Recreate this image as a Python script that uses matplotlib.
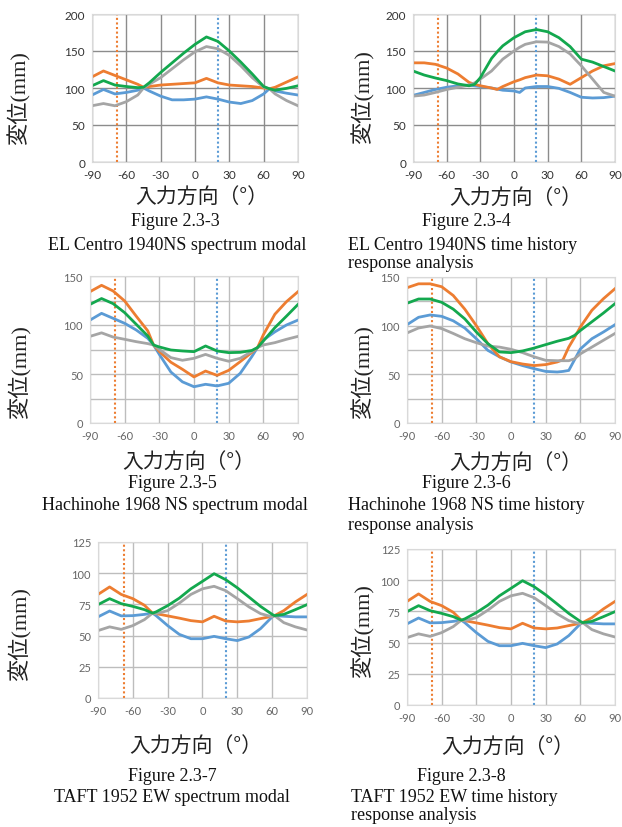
import matplotlib

matplotlib.use("Agg")
import matplotlib.pyplot as plt

W, H = 622, 828

BLUE = "#5B9BD5"
ORANGE = "#ED7D31"
GRAY = "#A5A5A5"
GREEN = "#13A84E"

ORANGE_LINE = -68
BLUE_LINE = 20

# Figure 2.3-3 EL Centro spectrum modal
p1_x = [-90, -80, -70, -60, -50, -45, -40, -30, -20, -10, 0, 10, 20, 30, 40, 50, 60, 65, 70, 80, 90]
p1_orange = [115, 123, 117, 111, 105, 101, 102, 104, 105, 106, 107, 113, 107, 104, 103, 102, 100, 99, 101, 108, 115]
p1_green = [103, 110, 104, 102, 100.5, 101, 107, 121, 134, 147, 159, 169, 163, 150, 135, 119, 102, 99, 97, 99.5, 103]
p1_gray = [76, 79, 76, 81.5, 90.5, 100, 105, 114, 126, 138, 149, 156, 153, 144, 130, 114, 101, 99, 92, 83, 76]
p1_blue = [90.5, 98, 92, 94, 97, 100, 96, 89, 84, 84, 85, 88, 85, 81, 79, 83, 92, 99, 96, 93, 90.5]

# Figure 2.3-4 EL Centro time history
p2_x = [-90, -80, -70, -60, -50, -40, -35, -30, -20, -15, -10, 0, 5, 10, 20, 30, 40, 50, 60, 70, 80, 90]
p2_orange = [134, 134, 132, 127, 119, 107.5, 105, 103, 100, 98, 102, 108.5, 111, 114, 117.5, 116.5, 112, 105, 114, 123, 130, 133]
p2_green = [123, 117.5, 113.5, 110, 105.5, 103, 105, 114, 140, 149, 157, 168, 172, 176, 179, 176, 168, 156, 139, 135, 129, 123]
p2_gray = [89, 90.5, 94, 98, 101, 104, 107, 112, 123, 131, 139, 150, 155, 159, 162.5, 162, 156, 146, 130, 112, 94, 89]
p2_blue = [90, 94, 98, 101, 103, 104, 103, 102, 100, 98.5, 97, 96, 94, 100, 102, 102, 99.5, 94, 87.5, 86.5, 87, 89]

# Figure 2.3-5 Hachinohe spectrum modal
p3_x = [-90, -80, -70, -60, -50, -40, -35, -30, -20, -10, 0, 10, 20, 30, 40, 50, 55, 60, 70, 80, 90]
p3_orange = [134, 140.5, 134.7, 124.5, 109, 94, 79.6, 73, 62, 54.8, 47, 53, 48.6, 53.7, 62.6, 72, 77, 90, 111, 123.8, 134]
p3_green = [121, 127, 121.8, 112.6, 100.7, 88.8, 79.6, 77.6, 74.5, 73.5, 72.8, 78.6, 73.5, 71.8, 72.1, 74, 77, 83.7, 97.3, 109, 121]
p3_blue = [105, 111.9, 106.8, 101.7, 94.9, 86.4, 79.6, 70, 52, 42, 37, 39.5, 37.8, 40.5, 50.7, 67.7, 77, 84.7, 93, 100, 105]
p3_gray = [88.4, 92, 87.7, 85.4, 83, 81, 79.6, 75, 66.7, 64, 66, 70, 66, 63, 66, 73, 77, 79.6, 82, 85.4, 88.4]

# Figure 2.3-6 Hachinohe time history
p4_x = [-90, -80, -70, -60, -50, -40, -30, -20, -10, 0, 10, 20, 30, 40, 45, 50, 55, 60, 70, 80, 90]
p4_orange = [139, 143, 143, 140, 131, 117, 100, 81.5, 68, 63, 60.6, 59, 60, 62.7, 65, 78, 88, 98.6, 115.8, 127.7, 138]
p4_green = [123, 127.4, 127.4, 124, 117, 107, 93.5, 81.5, 73, 72.3, 74, 77, 80.5, 84, 85.5, 87, 90, 95, 104, 113, 122.6]
p4_blue = [101, 108.6, 111, 109.6, 105, 97.6, 86.6, 74.6, 68, 62.7, 59, 55.8, 53, 52.4, 53, 54, 65, 76, 86.6, 93.5, 101]
p4_gray = [92.5, 97.6, 99.7, 97, 92, 86.6, 82.5, 79, 78, 75.7, 72.3, 68, 64.4, 64, 64, 64, 66, 71, 78, 85, 92]

# Figure 2.3-7 / 2.3-8 TAFT (both panels read the same)
p5_x = [-90, -80, -70, -60, -50, -43, -40, -30, -20, -10, 0, 10, 20, 30, 40, 50, 60, 62, 70, 80, 90]
p5_orange = [83, 89, 83, 79.6, 74.3, 68, 67.6, 65.8, 64, 62, 61, 65.5, 61.7, 61, 61.7, 63.6, 65.5, 66, 70, 77, 83]
p5_green = [74.8, 79.6, 75.6, 73.4, 70.8, 68, 69, 74, 80, 87.5, 93.5, 99.6, 94.8, 88.3, 80.9, 73.4, 67, 66, 67, 70.8, 74.8]
p5_gray = [54, 57, 55, 58, 62.8, 68, 67.6, 70, 76, 83, 87.5, 89.5, 86, 79.6, 73, 67.6, 65, 66, 60.4, 57, 54.5]
p5_blue = [65, 69.7, 65.8, 66, 67, 68, 66, 58, 51, 47.5, 47.5, 49.4, 47.5, 46, 48.9, 55.6, 65, 66, 65.5, 65, 65]

x_ticks = [-90, -60, -30, 0, 30, 60, 90]

panels = [
    # box in pixels (left, top, right, bottom)
    dict(box=(92, 15, 298, 163), x=p1_x, ys=(p1_blue, p1_orange, p1_gray, p1_green),
         ymax=200, grid=50, labels=[0, 50, 100, 150, 200], gc="#8C8C8C", tc="#333333", fs=8.5),
    dict(box=(413, 15, 615, 163), x=p2_x, ys=(p2_blue, p2_orange, p2_gray, p2_green),
         ymax=200, grid=50, labels=[0, 50, 100, 150, 200], gc="#8C8C8C", tc="#333333", fs=8.5),
    dict(box=(90, 277, 298, 424), x=p3_x, ys=(p3_blue, p3_orange, p3_gray, p3_green),
         ymax=150, grid=25, labels=[0, 50, 100, 150], gc="#BDBDBD", tc="#666666", fs=8),
    dict(box=(407, 278, 615, 424), x=p4_x, ys=(p4_blue, p4_orange, p4_gray, p4_green),
         ymax=150, grid=25, labels=[0, 50, 100, 150], gc="#BDBDBD", tc="#666666", fs=8),
    dict(box=(98, 543, 307, 699), x=p5_x, ys=(p5_blue, p5_orange, p5_gray, p5_green),
         ymax=125, grid=25, labels=[0, 25, 50, 75, 100, 125], gc="#BDBDBD", tc="#666666", fs=8),
    dict(box=(407, 550, 615, 706), x=p5_x, ys=(p5_blue, p5_orange, p5_gray, p5_green),
         ymax=125, grid=25, labels=[0, 25, 50, 75, 100, 125], gc="#BDBDBD", tc="#666666", fs=8),
]

# text positions in pixels
ylabel_pos = [(19, 98), (363, 97), (20, 372), (363, 372), (20, 634), (363, 631)]
xlabel_pos = [(202, 197), (516, 198), (189, 462), (516, 463), (196, 746), (508, 747)]
captions = [
    [("Figure 2.3-3", 175, 222, "center"), ("EL Centro 1940NS spectrum modal", 177, 246, "center")],
    [("Figure 2.3-4", 466, 221, "center"), ("EL Centro 1940NS time history", 348, 246, "left"),
     ("response analysis", 348, 264, "left")],
    [("Figure 2.3-5", 172, 484, "center"), ("Hachinohe 1968 NS spectrum modal", 175, 505, "center")],
    [("Figure 2.3-6", 466, 484, "center"), ("Hachinohe 1968 NS time history", 348, 505, "left"),
     ("response analysis", 348, 526, "left")],
    [("Figure 2.3-7", 172, 777, "center"), ("TAFT 1952 EW spectrum modal", 172, 798, "center")],
    [("Figure 2.3-8", 461, 777, "center"), ("TAFT 1952 EW time history", 351, 798, "left"),
     ("response analysis", 351, 816, "left")],
]

fig = plt.figure(figsize=(W / 100, H / 100), dpi=100)
fig.patch.set_facecolor("white")

for i, p in enumerate(panels):
    l, t, r, b = p["box"]
    ax = fig.add_axes([l / W, 1 - b / H, (r - l) / W, (b - t) / H])
    ax.set_xlim(-90, 90)
    ax.set_ylim(0, p["ymax"])
    ax.set_xticks(x_ticks)
    ax.set_xticklabels([str(v) for v in x_ticks])
    ax.set_yticks(list(range(0, p["ymax"] + 1, p["grid"])))
    ax.set_yticklabels([str(v) if v in p["labels"] else "" for v in range(0, p["ymax"] + 1, p["grid"])])
    ax.grid(True, color=p["gc"], lw=1.0)
    ax.set_axisbelow(True)
    for s in ax.spines.values():
        s.set_color("#D9D9D9")
        s.set_linewidth(0.8)
    ax.tick_params(length=0, labelsize=p["fs"], labelcolor=p["tc"], pad=5)
    for lab in ax.get_xticklabels() + ax.get_yticklabels():
        lab.set_family("Lato")

    ax.axvline(ORANGE_LINE, color=ORANGE, lw=1.5, ls=(0, (1, 1.2)))
    ax.axvline(BLUE_LINE, color=BLUE, lw=1.5, ls=(0, (1, 1.2)))

    blue, orange, gray, green = p["ys"]
    ax.plot(p["x"], blue, color=BLUE, lw=2, solid_joinstyle="round")
    ax.plot(p["x"], orange, color=ORANGE, lw=2, solid_joinstyle="round")
    ax.plot(p["x"], gray, color=GRAY, lw=2, solid_joinstyle="round")
    ax.plot(p["x"], green, color=GREEN, lw=2, solid_joinstyle="round")

    yx, yy = ylabel_pos[i]
    fig.text(yx / W, 1 - yy / H, "変位(mm)", rotation=90, ha="center", va="center",
             fontsize=16, family=["Liberation Serif", "Noto Sans CJK JP"], color="#222222")
    xx, xy = xlabel_pos[i]
    fig.text(xx / W, 1 - xy / H, "入力方向（°）", ha="center", va="center",
             fontsize=15, family=["Noto Sans CJK JP", "DejaVu Sans"], color="#222222")
    for txt, cx, cy, ha in captions[i]:
        fig.text(cx / W, 1 - cy / H, txt, ha=ha, va="center", fontsize=13,
                 family="Liberation Serif", color="#111111")

fig.savefig("out.png", dpi=100)
